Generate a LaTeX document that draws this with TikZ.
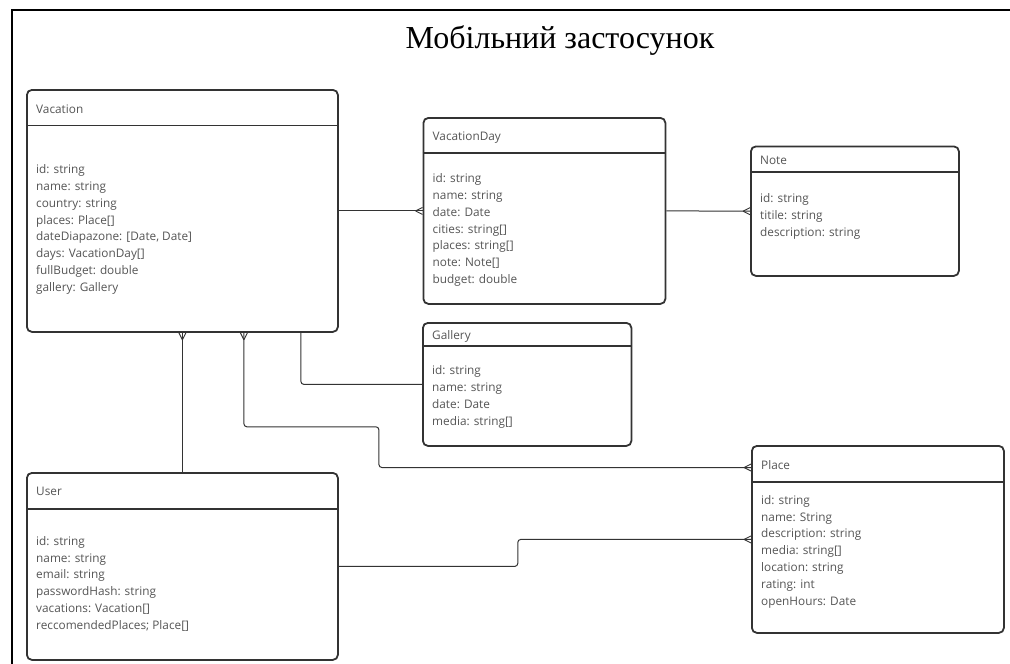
\documentclass[tikz,border=0pt]{standalone}
\usepackage{fontspec}
\setmainfont{Liberation Serif}
\newfontfamily\umlfont{Open Sans}
\usetikzlibrary{decorations.markings}

\definecolor{boxgray}{HTML}{333333}
\definecolor{textgray}{HTML}{555555}

\begin{document}
\begin{tikzpicture}[x=1pt, y=-1pt,
  entity/.style={draw=boxgray, line width=1.8pt, rounded corners=5pt,
    anchor=north west, inner sep=0pt, fill=white},
  caption/.style={anchor=west, inner sep=0pt, text=textgray,
    font=\umlfont\fontsize{11.8}{16.8}\selectfont},
  fields/.style={anchor=north west, inner sep=0pt, align=left, text=textgray,
    font=\umlfont\fontsize{11.8}{16.8}\selectfont},
  divider/.style={draw=boxgray, line width=1.5pt},
  link/.style={draw=boxgray, line width=1pt, rounded corners=3pt},
  crowend/.style={postaction={decorate, decoration={markings,
    mark=at position 1 with {\draw[boxgray, line width=0.9pt]
      (-7pt,0) -- (0,3.5pt) (-7pt,0) -- (0,-3.5pt);}}}},
  crowstart/.style={postaction={decorate, decoration={markings,
    mark=at position 0 with {\draw[boxgray, line width=0.9pt]
      (7pt,0) -- (0,3.5pt) (7pt,0) -- (0,-3.5pt);}}}}
]
\useasboundingbox (0,0) rectangle (1010,664);
\draw[line width=2.8pt, black] (12,670) -- (12,10) -- (1016,10);

\node[inner sep=0pt] (title) at (560,40) {\fontsize{32}{34}\selectfont Мобільний застосунок};

\node[entity, minimum width=311pt, minimum height=242pt] (vac) at (26,89) {};
\draw[divider] ([yshift=-36.5pt]vac.north west) -- ([yshift=-36.5pt]vac.north east);
\node[caption] (vac-title) at ([xshift=10pt, yshift=-20pt]vac.north west) {Vacation};
\node[fields] (vac-fields) at ([xshift=10pt, yshift=-75.5pt]vac.north west)
  {id: string\\name: string\\country: string\\places: Place[]\\dateDiapazone: [Date, Date]\\days: VacationDay[]\\fullBudget: double\\gallery: Gallery};

\node[entity, minimum width=242pt, minimum height=186pt] (vday) at (422.5,117) {};
\draw[divider] ([yshift=-36pt]vday.north west) -- ([yshift=-36pt]vday.north east);
\node[caption] (vday-title) at ([xshift=10pt, yshift=-20.5pt]vday.north west) {VacationDay};
\node[fields] (vday-fields) at ([xshift=10pt, yshift=-56.5pt]vday.north west)
  {id: string\\name: string\\date: Date\\cities: string[]\\places: string[]\\note: Note[]\\budget: double};

\node[entity, minimum width=208pt, minimum height=129.5pt] (note) at (750,145.5) {};
\draw[divider] ([yshift=-26.5pt]note.north west) -- ([yshift=-26.5pt]note.north east);
\node[caption] (note-title) at ([xshift=10pt, yshift=-15pt]note.north west) {Note};
\node[fields] (note-fields) at ([xshift=10pt, yshift=-48.3pt]note.north west)
  {id: string\\titile: string\\description: string};

\node[entity, minimum width=208.5pt, minimum height=123pt] (gallery) at (422,322) {};
\draw[divider] ([yshift=-24pt]gallery.north west) -- ([yshift=-24pt]gallery.north east);
\node[caption] (gallery-title) at ([xshift=10pt, yshift=-14pt]gallery.north west) {Gallery};
\node[fields] (gallery-fields) at ([xshift=10pt, yshift=-43.5pt]gallery.north west)
  {id: string\\name: string\\date: Date\\media: string[]};

\node[entity, minimum width=311pt, minimum height=187pt] (user) at (26,472) {};
\draw[divider] ([yshift=-37pt]user.north west) -- ([yshift=-37pt]user.north east);
\node[caption] (user-title) at ([xshift=10pt, yshift=-19.7pt]user.north west) {User};
\node[fields] (user-fields) at ([xshift=10pt, yshift=-64.2pt]user.north west)
  {id: string\\name: string\\email: string\\passwordHash: string\\vacations: Vacation[]\\reccomendedPlaces; Place[]};

\node[entity, minimum width=252pt, minimum height=187pt] (place) at (751,445) {};
\draw[divider] ([yshift=-37pt]place.north west) -- ([yshift=-37pt]place.north east);
\node[caption] (place-title) at ([xshift=10pt, yshift=-20pt]place.north west) {Place};
\node[fields] (place-fields) at ([xshift=10pt, yshift=-50.2pt]place.north west)
  {id: string\\name: String\\description: string\\media: string[]\\location: string\\rating: int\\openHours: Date};

\draw[link, crowend] (vac.east) -- (vday.west);
\draw[link, crowend] (vday.east) -- (note.west);
\draw[link] ([xshift=118.5pt]vac.south) |- (gallery.west);
\draw[link, crowstart, crowend] ([xshift=61.5pt]vac.south) |- ++(135,94) |- ([yshift=-22.5pt]place.north west);
\draw[link, crowstart] (vac.south) -- (user.north);
\draw[link, crowend] (user.east) -- ++(179,0) |- (place.west);
\end{tikzpicture}
\end{document}
